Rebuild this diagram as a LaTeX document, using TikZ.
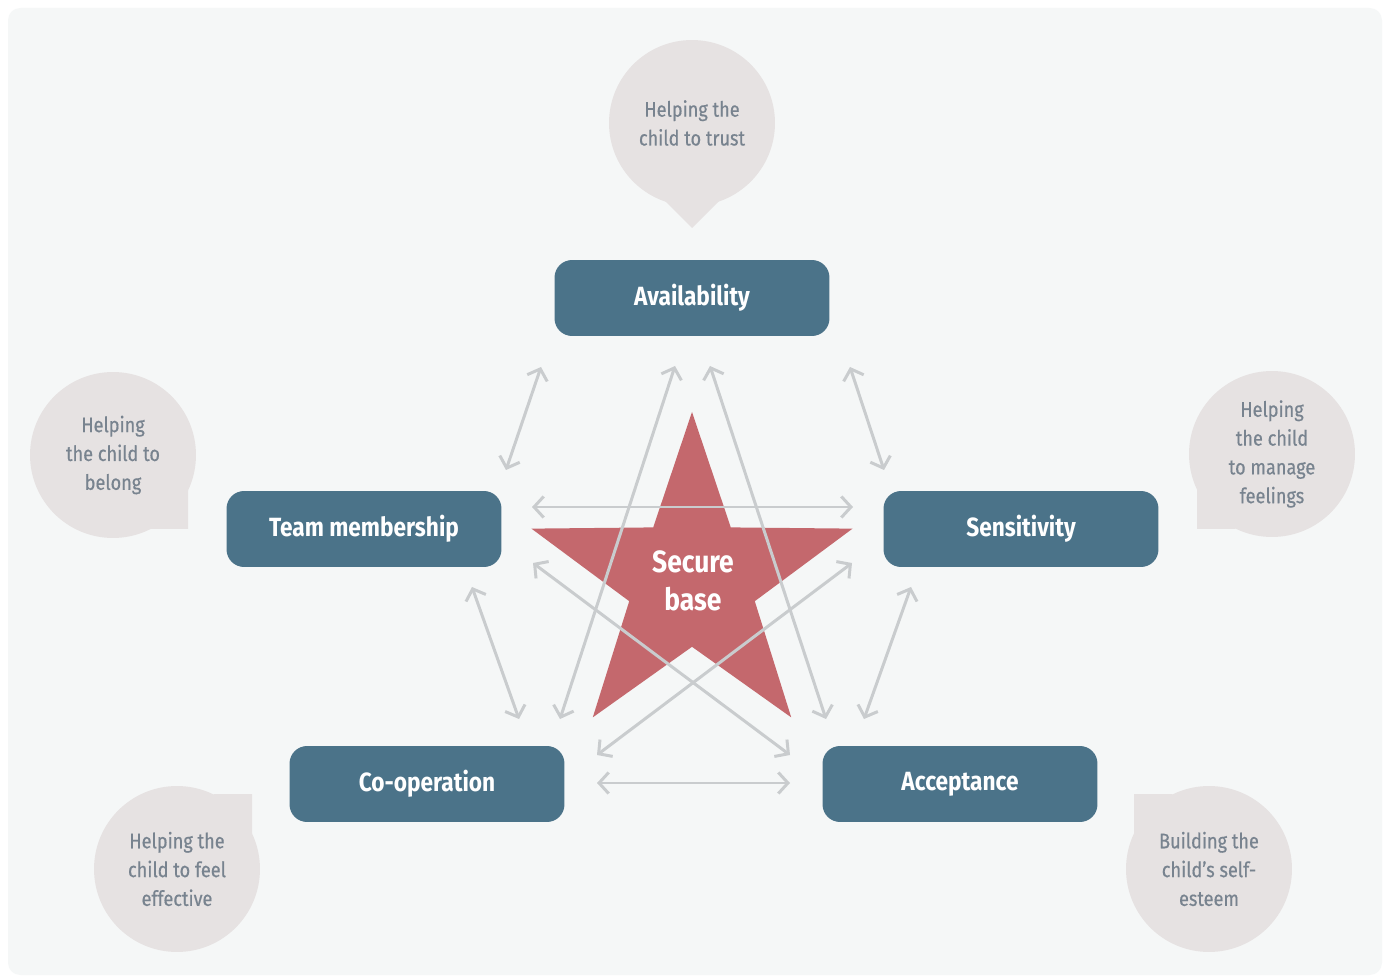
\documentclass[tikz,border=0pt]{standalone}
\usepackage{fontspec}
\setmainfont{Fira Sans}[FakeStretch=0.86]
\newfontfamily\aimfont{Fira Sans}[FakeStretch=0.86, FakeBold=0.5]
\usepackage{xcolor}
\usetikzlibrary{arrows.meta}

\definecolor{panel}{HTML}{F5F7F7}
\definecolor{boxblue}{HTML}{4B7389}
\definecolor{starred}{HTML}{C4686D}
\definecolor{bubble}{HTML}{E6E2E2}
\definecolor{bubbletext}{HTML}{78838F}
\definecolor{linkgray}{HTML}{C9CCCE}

\begin{document}
\begin{tikzpicture}[
    x=0.02cm, y=-0.02cm,
    quality/.style={rectangle, rounded corners=10pt, fill=boxblue, text=white, minimum width=5.5cm, minimum height=1.52cm, font=\fontsize{15}{17}\selectfont\bfseries},
    aim/.style={circle, fill=bubble, text=bubbletext, minimum size=3.32cm, inner sep=0pt, align=center, font=\aimfont\fontsize{12}{16.4}\selectfont},
    link/.style={draw=linkgray, line width=1.7pt, {Straight Barb[length=5.5pt,width=12pt]}-{Straight Barb[length=5.5pt,width=12pt]}},
    starfill/.style={fill=starred}
]
\useasboundingbox (0,0) rectangle (1387,976);
\fill[white] (0,0) rectangle (1387,976);
\fill[panel, rounded corners=7pt] (8,8) rectangle (1382,975);

% bubble centres
\coordinate (c-trust) at (692,123);
\coordinate (c-belong) at (113,455);
\coordinate (c-feel) at (1272,454);
\coordinate (c-effect) at (177,869);
\coordinate (c-esteem) at (1209,869);

% bubble tails
\fill[bubble] (c-trust) -- (665,201) -- (692,228) -- (720,200) -- cycle;
\fill[bubble] (c-belong) -- (188,490) -- (188,529) -- (150,529) -- cycle;
\fill[bubble] (c-feel) -- (1197,489) -- (1197,529) -- (1235,529) -- cycle;
\fill[bubble] (c-effect) -- (252,834) -- (252,794) -- (214,794) -- cycle;
\fill[bubble] (c-esteem) -- (1134,834) -- (1134,794) -- (1172,794) -- cycle;

\node[aim] (trust) at (c-trust) {Helping the\\child to trust};
\node[aim] (belong) at (c-belong) {Helping\\the child to\\belong};
\node[aim] (feel) at (c-feel) {Helping\\the child\\to manage\\feelings};
\node[aim] (effect) at (c-effect) {Helping the\\child to feel\\effective};
\node[aim] (esteem) at (c-esteem) {Building the\\child’s self-\\esteem};

\node[quality] (avail) at (692,298) {Availability};
\node[quality] (team) at (364,529) {Team membership};
\node[quality] (sens) at (1021,529) {Sensitivity};
\node[quality] (coop) at (427,784) {Co-operation};
\node[quality] (accept) at (960,784) {Acceptance};

% the star
\fill[starfill, shift={(692,580.8)}] (-90:168.8)
  \foreach \k in {0,...,4} { -- ({-54+72*\k}:66) -- ({-18+72*\k}:168.8) } -- cycle;

% arrow ends
\coordinate (av-tm1) at (541,367); \coordinate (av-tm2) at (506,470);
\coordinate (av-se1) at (850,367); \coordinate (av-se2) at (884,470);
\coordinate (av-co1) at (675,366); \coordinate (av-co2) at (560,719);
\coordinate (av-ac1) at (710,366); \coordinate (av-ac2) at (826,719);
\coordinate (tm-se1) at (532,507); \coordinate (tm-se2) at (853,507);
\coordinate (tm-ac1) at (533,563); \coordinate (tm-ac2) at (790,755);
\coordinate (se-co1) at (852,563); \coordinate (se-co2) at (597,755);
\coordinate (tm-co1) at (472,587); \coordinate (tm-co2) at (519,719);
\coordinate (se-ac1) at (911,587); \coordinate (se-ac2) at (864,719);
\coordinate (co-ac1) at (597,783); \coordinate (co-ac2) at (790,783);

\draw[link] (av-tm1) -- (av-tm2);
\draw[link] (av-se1) -- (av-se2);
\draw[link] (av-co1) -- (av-co2);
\draw[link] (av-ac1) -- (av-ac2);
\draw[link] (tm-se1) -- (tm-se2);
\draw[link] (tm-ac1) -- (tm-ac2);
\draw[link] (se-co1) -- (se-co2);
\draw[link] (tm-co1) -- (tm-co2);
\draw[link] (se-ac1) -- (se-ac2);
\draw[link] (co-ac1) -- (co-ac2);

\node[text=white, align=center, font=\fontsize{17.5}{22}\selectfont\bfseries] (secure) at (693,581) {Secure\\base};
\end{tikzpicture}
\end{document}
